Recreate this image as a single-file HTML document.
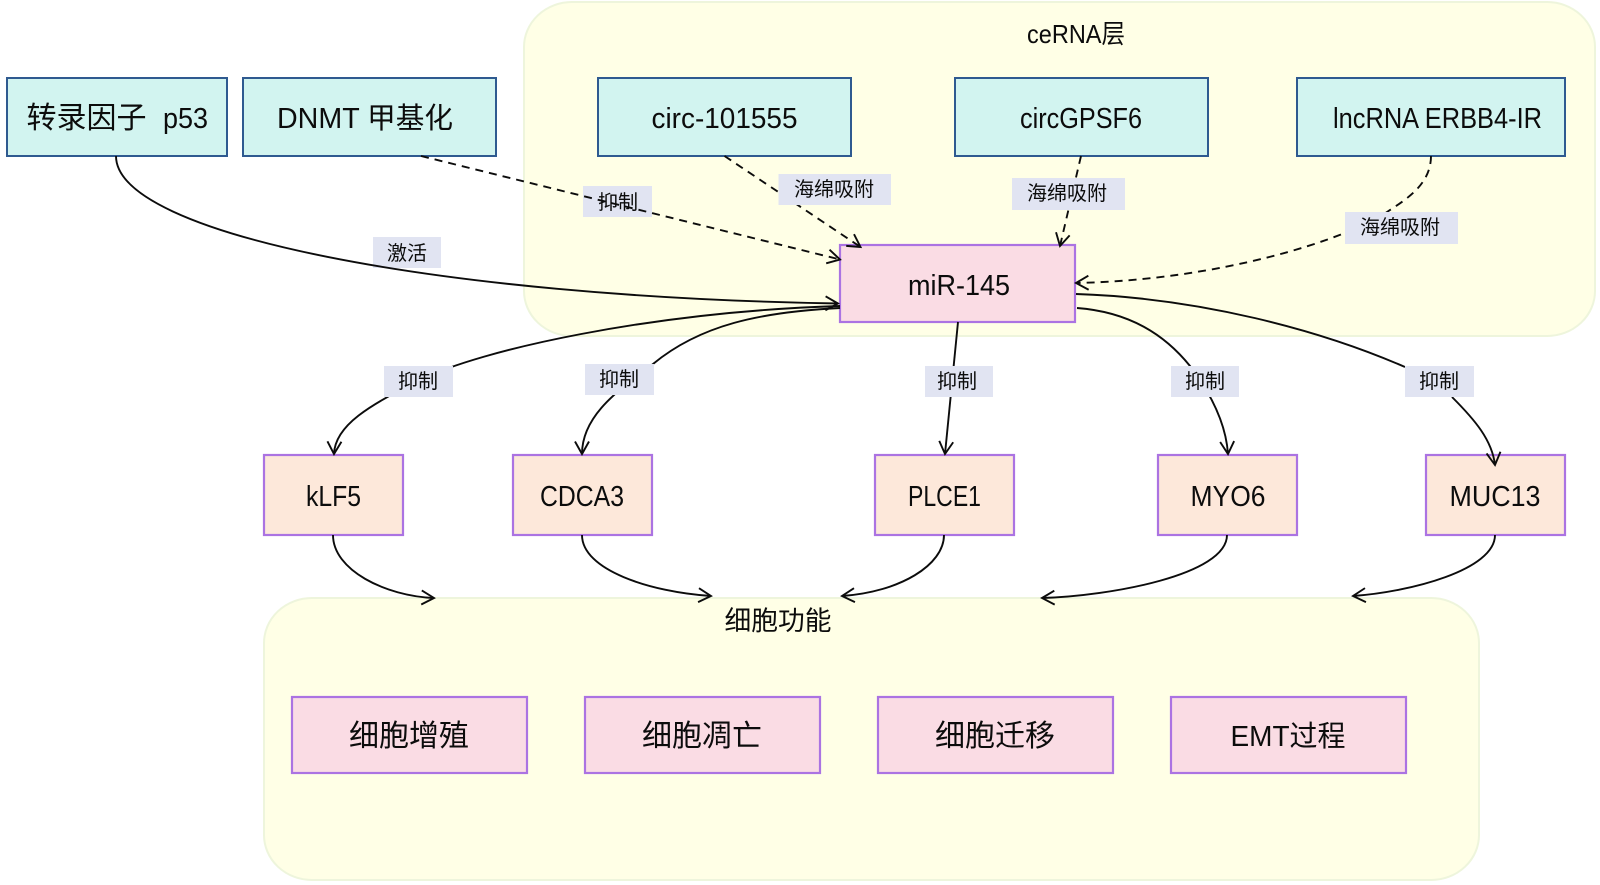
<!DOCTYPE html>
<html lang="zh">
<head>
<meta charset="utf-8">
<title>miR-145</title>
<style>
html,body{margin:0;padding:0;background:#fff;width:1600px;height:885px;overflow:hidden}
svg{display:block}
text{font-family:"Liberation Sans","Noto Sans CJK SC",sans-serif;fill:#0c0c0c;text-anchor:middle}
.b{stroke:#2f5a90;stroke-width:2;fill:#d2f4f0}
.p{stroke:#ab73e2;stroke-width:2.2;fill:#fadce4}
.o{stroke:#ab73e2;stroke-width:2.2;fill:#fde8da}
.g{fill:#ffffe6;stroke:#eef5dc;stroke-width:2}
.l{fill:#e1e4f2}
.e{fill:none;stroke:#0c0c0c;stroke-width:1.9}
.d{stroke-dasharray:8 6}
.t{font-size:29px}
.c{font-size:30px}
.s{font-size:20px}
</style>
</head>
<body>
<svg width="1600" height="885" viewBox="0 0 1600 885" xmlns="http://www.w3.org/2000/svg">
<defs>
<marker id="a" markerUnits="userSpaceOnUse" markerWidth="18" markerHeight="18" refX="14" refY="9" orient="auto">
<path d="M1.5,2 L14,9 L1.5,16" fill="none" stroke="#0c0c0c" stroke-width="1.9"/>
</marker>
</defs>

<rect class="g" x="524" y="2" width="1071" height="334" rx="48" ry="45"/>
<rect class="g" x="264" y="598" width="1215" height="282" rx="48" ry="45"/>

<text x="1076" y="43" font-size="26" textLength="98" lengthAdjust="spacingAndGlyphs">ceRNA层</text>
<text x="778" y="630" font-size="26.5" textLength="107" lengthAdjust="spacingAndGlyphs">细胞功能</text>

<!-- nodes -->
<rect class="b" x="7" y="78" width="220" height="78"/>
<rect class="b" x="243" y="78" width="253" height="78"/>
<rect class="b" x="598" y="78" width="253" height="78"/>
<rect class="b" x="955" y="78" width="253" height="78"/>
<rect class="b" x="1297" y="78" width="268" height="78"/>
<rect class="p" x="840" y="245" width="235" height="77"/>
<rect class="o" x="264" y="455" width="139" height="80"/>
<rect class="o" x="513" y="455" width="139" height="80"/>
<rect class="o" x="875" y="455" width="139" height="80"/>
<rect class="o" x="1158" y="455" width="139" height="80"/>
<rect class="o" x="1426" y="455" width="139" height="80"/>
<rect class="p" x="292" y="697" width="235" height="76"/>
<rect class="p" x="585" y="697" width="235" height="76"/>
<rect class="p" x="878" y="697" width="235" height="76"/>
<rect class="p" x="1171" y="697" width="235" height="76"/>

<!-- edges under labels -->
<path class="e d" marker-end="url(#a)" d="M724.5,156 L860.5,247"/>
<path class="e d" marker-end="url(#a)" d="M1081,156 L1060,246"/>
<path class="e d" marker-end="url(#a)" d="M1431,156 C1431,185 1405,200 1387,212 C1345,240 1220,280 1076,283"/>
<path class="e" marker-end="url(#a)" d="M840,306 C650,312 480,350 420,380 C370,405 335,425 334,454"/>
<path class="e" marker-end="url(#a)" d="M840,308 C760,312 700,325 653,364 C610,395 582,420 582,454"/>
<path class="e" marker-end="url(#a)" d="M958,322 L945,454"/>
<path class="e" marker-end="url(#a)" d="M1077,308 C1130,312 1165,335 1190,366 C1212,395 1226,425 1228,454"/>
<path class="e" d="M333,535 C333,570 385,596 434,598" marker-end="url(#a)"/>
<path class="e" d="M582,535 C582,570 650,592 711,596" marker-end="url(#a)"/>
<path class="e" d="M944,535 C944,565 900,592 842,596" marker-end="url(#a)"/>
<path class="e" d="M1227,535 C1227,575 1110,596 1042,598" marker-end="url(#a)"/>
<path class="e" d="M1495,535 C1495,570 1410,592 1353,596" marker-end="url(#a)"/>
<path class="e" d="M1076,294 C1200,298 1320,330 1405,367"/>
<path class="e" marker-end="url(#a)" d="M1452,397 C1475,420 1492,440 1495,465"/>

<!-- edge labels -->
<rect class="l" x="373" y="237" width="68" height="31"/>
<rect class="l" x="583" y="186" width="69" height="31"/>
<rect class="l" x="778.5" y="174" width="112.5" height="31"/>
<rect class="l" x="1012" y="178" width="113" height="32"/>
<rect class="l" x="1345" y="212" width="113" height="32"/>
<rect class="l" x="384" y="366" width="69" height="31"/>
<rect class="l" x="585" y="364" width="69" height="31"/>
<rect class="l" x="925" y="366" width="68" height="31"/>
<rect class="l" x="1171" y="366" width="68" height="31"/>
<rect class="l" x="1405" y="366" width="69" height="31"/>

<text class="s" x="407" y="260">激活</text>
<text class="s" x="618" y="209">抑制</text>
<text class="s" x="834" y="196">海绵吸附</text>
<text class="s" x="1067" y="200">海绵吸附</text>
<text class="s" x="1400" y="234">海绵吸附</text>
<text class="s" x="418" y="388">抑制</text>
<text class="s" x="619" y="386">抑制</text>
<text class="s" x="957" y="388">抑制</text>
<text class="s" x="1205" y="388">抑制</text>
<text class="s" x="1439" y="388">抑制</text>

<text class="c" x="86.5" y="128">转录因子</text>
<text class="t" x="185.5" y="128" textLength="45" lengthAdjust="spacingAndGlyphs">p53</text>
<text class="t" x="365" y="128" textLength="176" lengthAdjust="spacingAndGlyphs">DNMT 甲基化</text>
<text class="t" x="724.5" y="128" textLength="146" lengthAdjust="spacingAndGlyphs">circ-101555</text>
<text class="t" x="1081" y="128" textLength="122" lengthAdjust="spacingAndGlyphs">circGPSF6</text>
<text class="t" x="1437.5" y="128" textLength="209" lengthAdjust="spacingAndGlyphs">lncRNA ERBB4-IR</text>
<text class="t" x="959" y="295" textLength="102" lengthAdjust="spacingAndGlyphs">miR-145</text>
<text class="t" x="333.5" y="506" textLength="55" lengthAdjust="spacingAndGlyphs">kLF5</text>
<text class="t" x="582" y="506" textLength="84" lengthAdjust="spacingAndGlyphs">CDCA3</text>
<text class="t" x="944.5" y="506" textLength="73" lengthAdjust="spacingAndGlyphs">PLCE1</text>
<text class="t" x="1228" y="506" textLength="75" lengthAdjust="spacingAndGlyphs">MYO6</text>
<text class="t" x="1495" y="506" textLength="91" lengthAdjust="spacingAndGlyphs">MUC13</text>
<text class="c" x="409" y="746">细胞增殖</text>
<text class="c" x="702" y="746">细胞凋亡</text>
<text class="c" x="995" y="746">细胞迁移</text>
<text class="t" x="1288" y="746" textLength="115" lengthAdjust="spacingAndGlyphs">EMT过程</text>

<!-- edges over labels -->
<path class="e" marker-end="url(#a)" d="M116,156 C116,235 440,297 838,303.5"/>
<path class="e d" marker-end="url(#a)" d="M421,156 L840,259.5"/>
</svg>
</body>
</html>
